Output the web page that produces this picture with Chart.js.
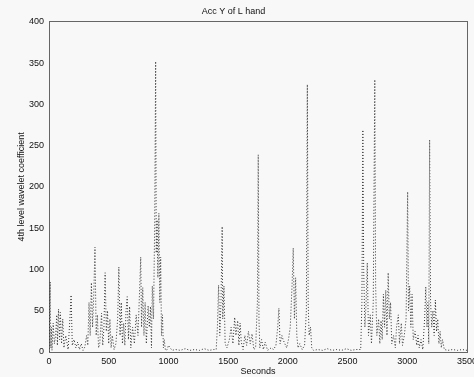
<!DOCTYPE html>
<html>
<head>
<meta charset="utf-8">
<script src="https://cdn.jsdelivr.net/npm/chart.js@4/dist/chart.umd.min.js"></script>
<style>
  html, body { margin: 0; padding: 0; background: #f8f8f8; }
  #wrap { width: 474px; height: 377px; }
</style>
</head>
<body>
<div id="wrap"><canvas id="myChart"></canvas></div>
<script>
// time in seconds and wavelet coefficient
var seconds = [
  0, 5, 10, 15, 20, 25, 35, 45, 55, 65, 70, 80, 88, 95, 105, 115, 125, 140, 150, 160,
  175, 185, 195, 210, 225, 240, 255, 270, 285, 300, 315, 325, 335, 345, 355, 365, 375, 385, 395, 405,
  415, 425, 440, 450, 460, 470, 480, 490, 500, 510, 520, 530, 545, 560, 575, 585, 595, 605, 615, 625,
  635, 645, 655, 665, 675, 685, 700, 715, 730, 745, 760, 768, 775, 785, 795, 805, 815, 830, 840, 850,
  858, 865, 875, 885, 893, 898, 905, 912, 920, 928, 935, 942, 950, 958, 965, 975, 990, 1000, 1030, 1060,
  1100, 1140, 1180, 1220, 1260, 1300, 1340, 1380, 1400, 1410, 1420, 1430, 1440, 1450, 1455, 1465, 1475, 1490, 1510, 1525,
  1540, 1555, 1565, 1580, 1590, 1600, 1610, 1625, 1640, 1655, 1670, 1685, 1700, 1715, 1730, 1745, 1752, 1758, 1765, 1780,
  1795, 1810, 1830, 1860, 1880, 1900, 1915, 1925, 1935, 1950, 1960, 1975, 1990, 2005, 2020, 2035, 2045, 2055, 2065, 2075,
  2085, 2100, 2120, 2140, 2155, 2163, 2170, 2178, 2190, 2200, 2215, 2250, 2290, 2330, 2370, 2410, 2450, 2490, 2530, 2570,
  2610, 2620, 2628, 2635, 2645, 2655, 2665, 2675, 2690, 2700, 2715, 2728, 2735, 2745, 2760, 2770, 2780, 2790, 2800, 2810,
  2820, 2830, 2840, 2850, 2860, 2870, 2885, 2900, 2910, 2925, 2935, 2950, 2960, 2975, 2990, 3003, 3010, 3020, 3030, 3040,
  3050, 3065, 3080, 3090, 3100, 3115, 3130, 3145, 3155, 3165, 3172, 3180, 3187, 3195, 3205, 3215, 3225, 3235, 3245, 3255,
  3265, 3275, 3285, 3295, 3310, 3340, 3380, 3420, 3460, 3500
];
var coefficient = [
  0, 40, 85, 5, 30, 2, 35, 10, 20, 45, 8, 52, 15, 48, 10, 40, 5, 20, 12, 3,
  40, 69, 8, 15, 5, 12, 3, 10, 2, 6, 20, 8, 60, 20, 84, 30, 70, 127, 20, 45,
  5, 10, 47, 8, 30, 96, 25, 50, 10, 40, 5, 20, 3, 10, 40, 103, 20, 60, 10, 35,
  8, 50, 67, 15, 55, 5, 30, 10, 45, 20, 80, 115, 30, 78, 20, 60, 10, 56, 30, 55,
  5, 80, 40, 155, 352, 120, 160, 90, 168, 60, 115, 20, 45, 5, 15, 2, 3, 8, 2, 3,
  2, 4, 2, 3, 2, 4, 2, 3, 3, 30, 81, 20, 60, 152, 40, 80, 10, 5, 15, 30,
  10, 42, 20, 38, 8, 35, 12, 3, 20, 8, 25, 10, 22, 3, 5, 60, 239, 40, 5, 15,
  3, 12, 2, 5, 3, 8, 30, 53, 10, 20, 15, 10, 5, 15, 30, 80, 126, 40, 90, 20,
  5, 10, 3, 8, 50, 324, 60, 20, 30, 5, 2, 3, 2, 4, 2, 3, 2, 4, 2, 3,
  3, 60, 269, 100, 30, 60, 108, 20, 45, 10, 60, 330, 80, 20, 40, 10, 38, 15, 70, 30,
  75, 20, 96, 40, 60, 10, 20, 5, 30, 45, 10, 35, 8, 20, 40, 194, 50, 80, 30, 70,
  15, 25, 8, 20, 5, 15, 3, 40, 79, 30, 60, 10, 257, 60, 30, 50, 20, 63, 25, 40,
  10, 25, 5, 15, 3, 2, 3, 2, 3, 2
];
var xTicks = [0, 500, 1000, 1500, 2000, 2500, 3000, 3500];
var yTicks = [0, 50, 100, 150, 200, 250, 300, 350, 400];

var points = seconds.map(function (s, i) { return { x: s, y: coefficient[i] }; });

var font = { family: 'Liberation Sans, Arial, sans-serif', size: 9, weight: 'normal' };
var dotted = { display: true, color: '#666', width: 1, dash: [1, 2] };
var plain = function (v) { return String(v); };

var ctx = document.getElementById('myChart').getContext('2d');
var chart = new Chart(ctx, {
  type: 'line',
  data: {
    datasets: [{
      data: points,
      borderColor: '#333',
      borderWidth: 1,
      borderDash: [1, 2],
      pointRadius: 0,
      tension: 0,
      fill: false
    }]
  },
  options: {
    responsive: true,
    maintainAspectRatio: false,
    animation: false,
    layout: { padding: { left: 0, right: 7, top: 0, bottom: 0 } },
    plugins: {
      legend: { display: false },
      tooltip: { enabled: false },
      title: {
        display: true,
        text: 'Acc Y of L hand',
        color: '#111',
        font: font,
        padding: { top: 6, bottom: 5 }
      }
    },
    scales: {
      x: {
        type: 'linear',
        min: 0,
        max: 3500,
        afterBuildTicks: function (s) { s.ticks = xTicks.map(function (v) { return { value: v }; }); },
        afterFit: function (s) { s.height = 25; s.paddingLeft = 0; s.paddingRight = 0; },
        grid: { display: false, drawTicks: false },
        border: dotted,
        ticks: { color: '#111', font: font, padding: 4, maxRotation: 0, autoSkip: false, callback: plain },
        title: { display: true, text: 'Seconds', color: '#111', font: font, padding: { top: 0, bottom: 0 } }
      },
      y: {
        min: 0,
        max: 400,
        afterBuildTicks: function (s) { s.ticks = yTicks.map(function (v) { return { value: v }; }); },
        afterFit: function (s) { s.width = 49; },
        grid: { display: false, drawTicks: false },
        border: dotted,
        ticks: { color: '#111', font: font, padding: 5, autoSkip: false, callback: plain },
        title: { display: true, text: '4th level wavelet coefficient', color: '#111', font: font, padding: { top: 16, bottom: 0 } }
      },
      x2: {
        type: 'linear', position: 'top', min: 0, max: 3500,
        afterFit: function (s) { s.height = 0; s.paddingLeft = 0; s.paddingRight = 0; },
        grid: { display: false, drawTicks: false },
        border: dotted,
        ticks: { display: false }
      },
      y2: {
        position: 'right', min: 0, max: 400,
        afterFit: function (s) { s.width = 0; },
        grid: { display: false, drawTicks: false },
        border: dotted,
        ticks: { display: false }
      }
    }
  }
});
</script>
</body>
</html>
